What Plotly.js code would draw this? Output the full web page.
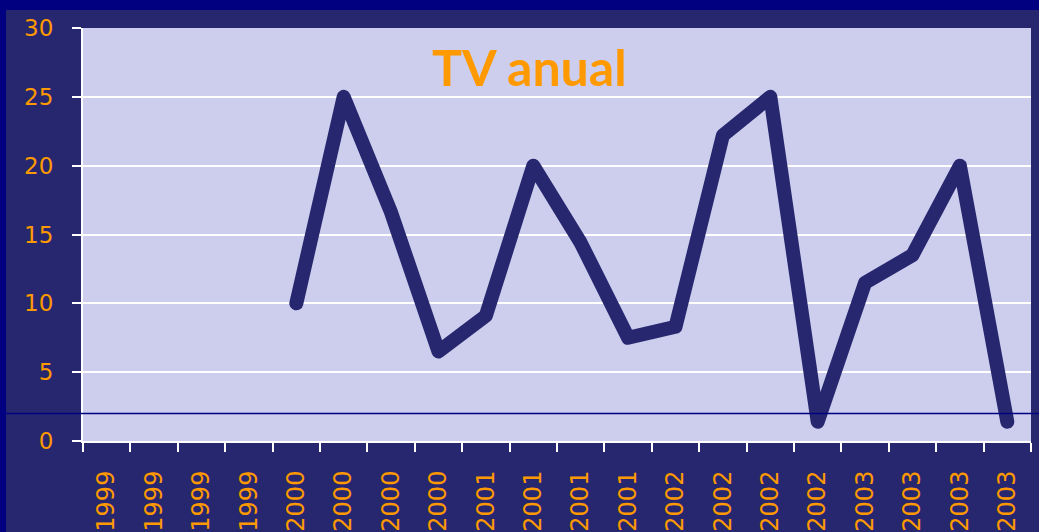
<!DOCTYPE html>
<html>
<head>
<meta charset="utf-8">
<script src="https://cdn.plot.ly/plotly-3.0.1.min.js"></script>
<style>
  body { margin: 0; background: #27276f; }
  #chart { width: 1039px; height: 532px; }
  .scatterlayer .js-line { stroke-linejoin: round !important; stroke-linecap: round !important; }
</style>
</head>
<body>
<div id="chart"></div>
<script>
// Quarter labels (four per year)
var periodLabels = ["1999", "1999", "1999", "1999",
                    "2000", "2000", "2000", "2000",
                    "2001", "2001", "2001", "2001",
                    "2002", "2002", "2002", "2002",
                    "2003", "2003", "2003", "2003"];

// Annual variation (no data for 1999)
var tvValues = [null, null, null, null,
                10, 25, 16.6, 6.5,
                9.1, 20, 14.4, 7.5,
                8.3, 22.2, 25, 1.4,
                11.5, 13.5, 20, 1.4];

var yTicks = [0, 5, 10, 15, 20, 25, 30];
var refLevel = 2;

var xIdx = periodLabels.map((d, i) => i);
var boundaries = periodLabels.map((d, i) => i - 0.5).concat([periodLabels.length - 0.5]);

var trace1 = {
    x: xIdx,
    y: tvValues,
    type: 'scatter',
    mode: 'lines',
    line: { color: '#27276f', width: 14 },
    hoverinfo: 'skip'
};

var layout = {
    width: 1039,
    height: 532,
    margin: { l: 83, r: 8, t: 28, b: 91 },
    paper_bgcolor: '#27276f',
    plot_bgcolor: '#cdcdee',
    showlegend: false,
    xaxis: {
        range: [-0.5, periodLabels.length - 0.5],
        tickmode: 'array',
        tickvals: xIdx,
        ticktext: periodLabels,
        tickangle: -90,
        ticks: '',
        ticklabelstandoff: 18,
        tickfont: { family: 'DejaVu Sans', size: 24, color: '#ff9900' },
        showgrid: false,
        zeroline: false,
        showline: true,
        linecolor: '#ffffff',
        linewidth: 2,
        minor: {
            tickmode: 'array',
            tickvals: boundaries,
            ticks: 'outside',
            ticklen: 9,
            tickwidth: 2,
            tickcolor: '#ffffff',
            showgrid: false
        }
    },
    yaxis: {
        range: [0, 30],
        tickmode: 'array',
        tickvals: yTicks,
        ticks: 'outside',
        ticklen: 9,
        tickwidth: 2,
        tickcolor: '#ffffff',
        ticklabelstandoff: 14,
        tickfont: { family: 'DejaVu Sans', size: 23, color: '#ff9900' },
        showgrid: true,
        gridcolor: '#ffffff',
        gridwidth: 1.5,
        zeroline: false,
        showline: true,
        linecolor: '#ffffff',
        linewidth: 2
    },
    shapes: [
        // navy frame strips (top and left)
        {
            type: 'rect', xref: 'paper', yref: 'paper', layer: 'below',
            x0: -0.1, x1: 1.02, y0: 1.0436, y1: 1.1,
            fillcolor: '#000080', line: { width: 0 }
        },
        {
            type: 'rect', xref: 'paper', yref: 'paper', layer: 'below',
            x0: -0.1, x1: -0.0812, y0: -0.25, y1: 1.1,
            fillcolor: '#000080', line: { width: 0 }
        },
        {
            type: 'line', xref: 'paper', yref: 'y', layer: 'above',
            x0: -0.0812, x1: 1.02, y0: refLevel, y1: refLevel,
            line: { color: '#000080', width: 1.5 }
        }
    ],
    annotations: [
        {
            text: '<b>TV anual</b>',
            xref: 'paper', yref: 'paper',
            x: 0.4715, y: 0.905,
            xanchor: 'center', yanchor: 'middle',
            showarrow: false,
            font: { family: 'Comic Sans MS, Lato', size: 50, color: '#ff9900' }
        }
    ]
};

Plotly.newPlot('chart', [trace1], layout, { displayModeBar: false });
</script>
</body>
</html>
